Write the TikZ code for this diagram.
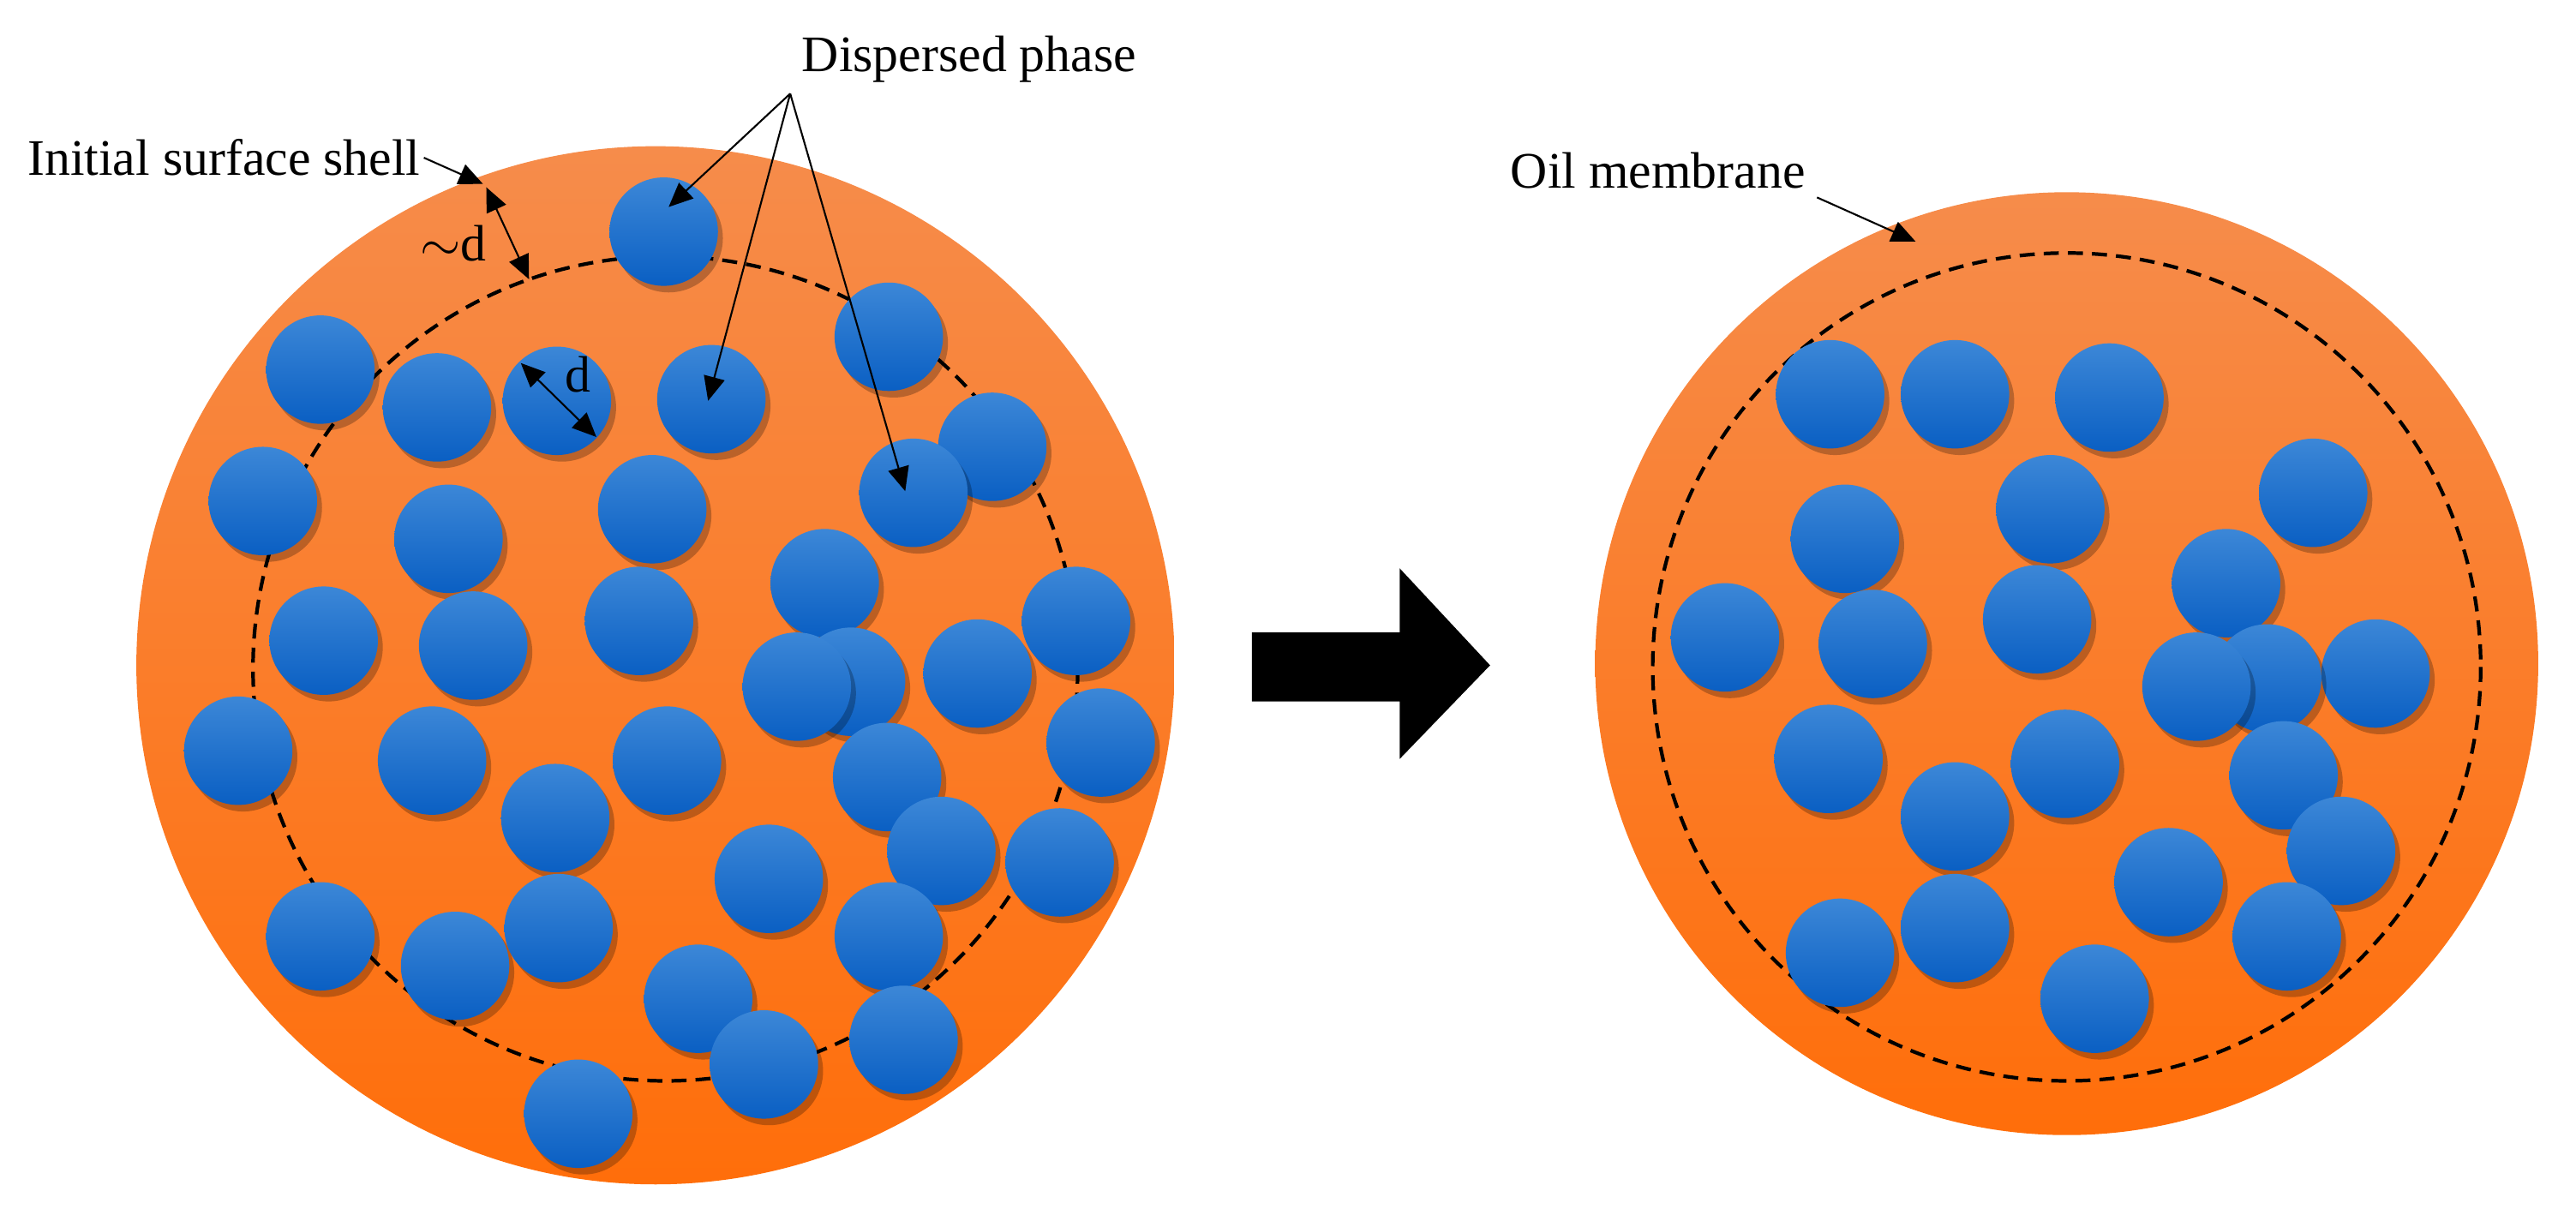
\documentclass[tikz,border=0pt]{standalone}
\usepackage{fontspec}
\setmainfont{Liberation Serif}
\usetikzlibrary{arrows.meta}
\definecolor{orangetop}{RGB}{246,140,75}
\definecolor{orangebot}{RGB}{255,110,10}
\definecolor{bluetop}{RGB}{60,135,215}
\definecolor{bluebot}{RGB}{10,95,195}
\tikzset{
  blob/.style={top color=bluetop, bottom color=bluebot, draw=none},
  shell/.style={line width=1.2pt, dash pattern=on 5pt off 3pt},
  label/.style={font=\fontsize{17}{19}\selectfont, inner sep=1pt},
  pointer/.style={-{Triangle[length=8pt,width=7pt]}, line width=0.6pt},
  twoway/.style={{Triangle[length=8pt,width=7pt]}-{Triangle[length=8pt,width=7pt]}, line width=0.6pt}
}
\begin{document}
\begin{tikzpicture}[x=0.01917cm, y=-0.01917cm]
  \useasboundingbox (0,0) rectangle (1568,743);
  % left droplet
  \shade[top color=orangetop, bottom color=orangebot] (399,405) circle (316);
  \draw[shell] (405,407) circle (251);
  \foreach \x/\y in {404/141, 541/205, 195/225, 266/248, 339/244, 433/243, 604/272,
    160/305, 273/328, 397/310, 556/300, 502/355, 197/390, 288/393, 389/378, 655/378,
    595/410, 518/415, 485/418, 145/457, 263/463, 406/463, 670/452, 540/473, 338/498,
    573/518, 468/535, 645/525, 195/570, 277/588, 340/565, 541/570, 425/608, 465/648,
    550/633, 352/678}{
    \fill[black, opacity=0.25] (\x+3,\y+4) circle (33);
    \shade[blob] (\x,\y) circle (33);
  }
  % right droplet
  \shade[top color=orangetop, bottom color=orangebot] (1258,404) circle (287);
  \draw[shell] (1258,406) circle (252);
  \foreach \x/\y in {1114/240, 1190/240, 1284/242, 1408/300, 1248/310, 1123/328,
    1355/355, 1050/388, 1140/392, 1240/377, 1446/410, 1380/413, 1337/418, 1113/462,
    1257/465, 1390/472, 1190/497, 1425/518, 1320/537, 1120/580, 1190/565, 1392/570,
    1275/608}{
    \fill[black, opacity=0.25] (\x+3,\y+4) circle (33);
    \shade[blob] (\x,\y) circle (33);
  }
  % block arrow
  \fill (762,385) -- (852,385) -- (852,346) -- (907,405) -- (852,462) -- (852,427) -- (762,427) -- cycle;
  % labels
  \node[label, anchor=west] (disp) at (486,36) {Dispersed phase};
  \coordinate (dispRoot) at (481,57);
  \coordinate (dispA) at (407,126);
  \coordinate (dispB) at (431,244);
  \coordinate (dispC) at (551,299);
  \draw[pointer] (dispRoot) -- (dispA);
  \draw[pointer] (dispRoot) -- (dispB);
  \draw[pointer] (dispRoot) -- (dispC);
  \node[label, anchor=east] (shellLbl) at (258,96) {Initial surface shell};
  \coordinate (shellTip) at (294,112);
  \draw[pointer] (shellLbl.east) -- (shellTip);
  \node[label] (dd) at (276,148) {$\sim$d};
  \coordinate (ddA) at (296,114);
  \coordinate (ddB) at (322,170);
  \draw[twoway] (ddA) -- (ddB);
  \node[label] (dsmall) at (352,228) {d};
  \coordinate (dA) at (317,221);
  \coordinate (dB) at (363,266);
  \draw[twoway] (dA) -- (dB);
  \node[label, anchor=east] (oil) at (1101,104) {Oil membrane};
  \coordinate (oilTip) at (1166,147);
  \draw[pointer] (oil.south east) ++(5,3) -- (oilTip);
\end{tikzpicture}
\end{document}
